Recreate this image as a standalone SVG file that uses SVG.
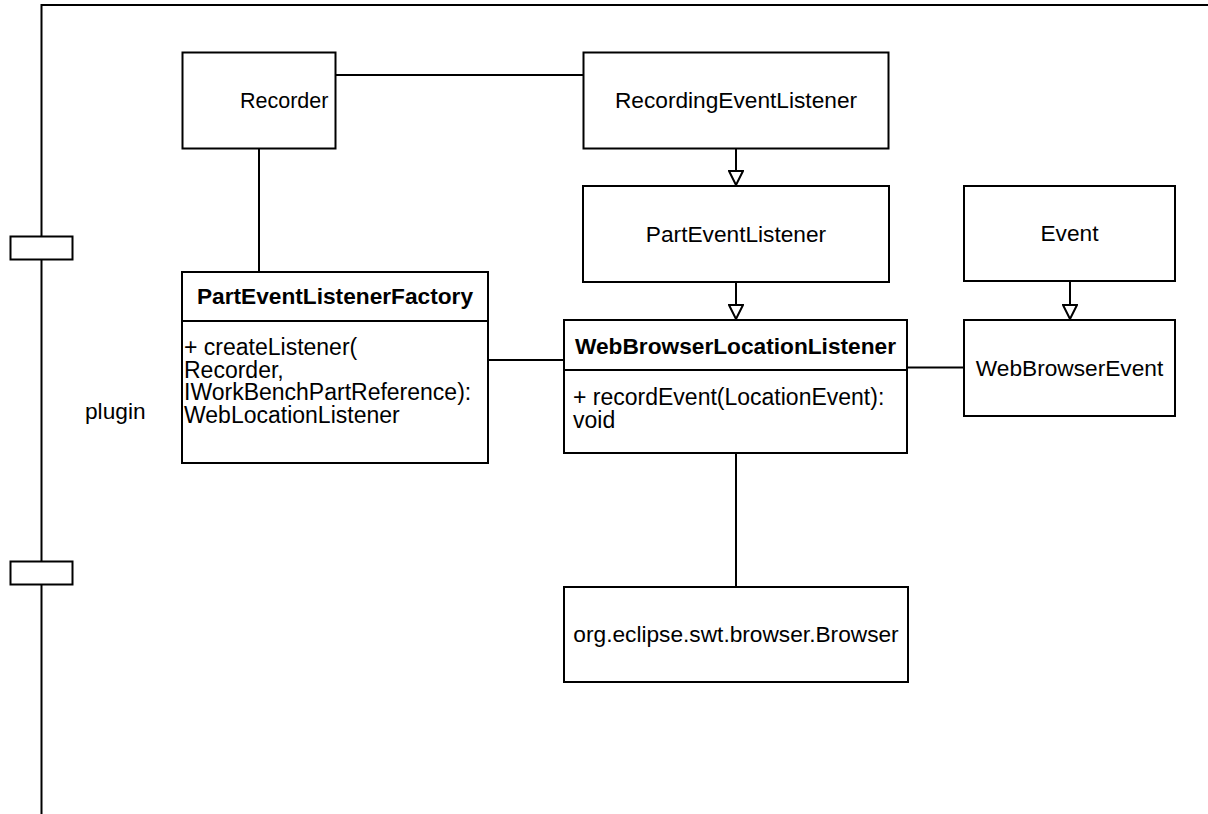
<svg xmlns="http://www.w3.org/2000/svg" width="1208" height="814" viewBox="0 0 1208 814">
<style>
.box{fill:#fff;stroke:#000;stroke-width:2}
.ln{fill:none;stroke:#000;stroke-width:2}
text{font-family:"Liberation Sans",Arial,Helvetica,sans-serif;font-size:22.7px;fill:#000}
.c{text-anchor:middle}
.b{font-weight:bold}
.m{font-size:23px}
</style>
<defs>
<marker id="tri" viewBox="0 0 16 16" refX="15" refY="8" markerWidth="16" markerHeight="16" markerUnits="userSpaceOnUse" orient="auto">
<path d="M1,1 L15,8 L1,15 Z" fill="#fff" stroke="#000" stroke-width="2"/>
</marker>
</defs>
<rect width="1208" height="814" fill="#fff"/>
<g id="frame">
<path class="ln" d="M41.5,814 V5 H1208"/>
<rect class="box" x="10.5" y="236.5" width="62" height="23"/>
<rect class="box" x="10.5" y="561.5" width="62" height="23"/>
<text x="85" y="419">plugin</text>
</g>
<g id="connectors">
<path class="ln" d="M335,75 H583"/>
<path class="ln" d="M259,148 V272"/>
<path class="ln" d="M736,148 V185" marker-end="url(#tri)"/>
<path class="ln" d="M736,282 V319" marker-end="url(#tri)"/>
<path class="ln" d="M1070,281 V319" marker-end="url(#tri)"/>
<path class="ln" d="M488,360 H564"/>
<path class="ln" d="M907,367.5 H964"/>
<path class="ln" d="M736,453 V587"/>
</g>
<g id="recorder">
<rect class="box" x="182.5" y="52.5" width="153" height="96"/>
<text x="240" y="108" style="font-size:21.5px">Recorder</text>
</g>
<g id="recordingEventListener">
<rect class="box" x="583.5" y="52.5" width="305" height="96"/>
<text class="c" x="736" y="108">RecordingEventListener</text>
</g>
<g id="partEventListener">
<rect class="box" x="583" y="186" width="306" height="96"/>
<text class="c" x="736" y="242">PartEventListener</text>
</g>
<g id="event">
<rect class="box" x="964" y="186" width="211" height="95"/>
<text class="c" x="1069.5" y="241">Event</text>
</g>
<g id="webBrowserEvent">
<rect class="box" x="964" y="320" width="211" height="96"/>
<text class="c" x="1069.5" y="376">WebBrowserEvent</text>
</g>
<g id="partEventListenerFactory">
<rect class="box" x="182" y="272" width="306" height="191"/>
<path class="ln" d="M182,321 H488"/>
<text class="c b" x="335" y="304">PartEventListenerFactory</text>
<text class="m" x="184" y="355">+ createListener(</text>
<text class="m" x="184" y="377.5">Recorder,</text>
<text class="m" x="184" y="400">IWorkBenchPartReference):</text>
<text class="m" x="184" y="422.5">WebLocationListener</text>
</g>
<g id="webBrowserLocationListener">
<rect class="box" x="564" y="320" width="343" height="133"/>
<path class="ln" d="M564,370 H907"/>
<text class="c b" x="735.5" y="354">WebBrowserLocationListener</text>
<text class="m" x="573" y="405">+ recordEvent(LocationEvent):</text>
<text class="m" x="573" y="428">void</text>
</g>
<g id="browser">
<rect class="box" x="564" y="587" width="344" height="95"/>
<text class="c" x="736" y="642">org.eclipse.swt.browser.Browser</text>
</g>
</svg>
